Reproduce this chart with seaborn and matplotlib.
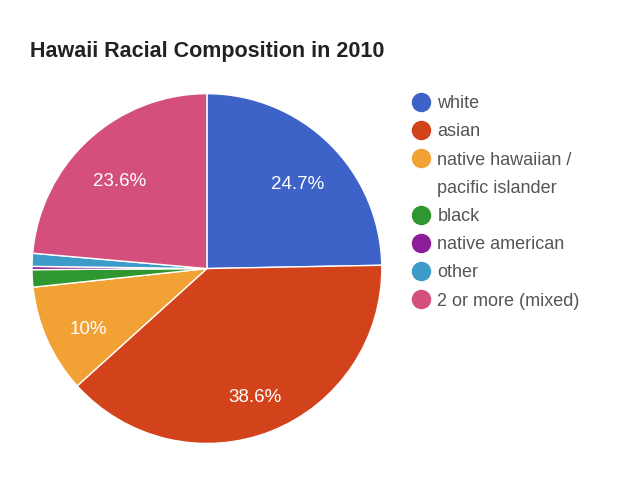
import matplotlib
matplotlib.use("Agg")
import matplotlib.pyplot as plt
from matplotlib.lines import Line2D
import seaborn as sns

# Hawaii 2010 census shares (percent)
groups = ["white", "asian", "native hawaiian /", "black",
          "native american", "other", "2 or more (mixed)"]
shares = [24.7, 38.6, 10.0, 1.6, 0.3, 1.2, 23.6]
colors = ["#3d63c9", "#d2431c", "#f2a134", "#2f972f", "#8c1d98", "#3c9bc9", "#d44f7e"]
# second line of the wrapped legend entry
wrap_after = "native hawaiian /"
wrap_text = "pacific islander"

sns.set_theme(style="white")
plt.rcParams["font.family"] = ["Liberation Sans", "DejaVu Sans"]


def pct_label(pct):
    # small slices get no label, like the original chart
    if pct < 5:
        return ""
    text = f"{pct:.1f}".rstrip("0").rstrip(".")
    return text + "%"


fig = plt.figure(figsize=(6.18, 4.8), dpi=100)
ax = fig.add_axes([0.0518, 0.076, 0.566, 0.729])

wedges, texts, autotexts = ax.pie(
    shares,
    colors=colors,
    startangle=90,
    counterclock=False,
    autopct=pct_label,
    pctdistance=0.74,
    wedgeprops={"edgecolor": "white", "linewidth": 1},
    textprops={"color": "white", "fontsize": 13.5},
)
# google-style label anchor sits a little below the slice centre
for t in autotexts:
    t.set_va("top")
ax.set_xlim(-1, 1)
ax.set_ylim(-1, 1)
ax.set_aspect("equal")

fig.text(30 / 618, 1 - 52 / 480, "Hawaii Racial Composition in 2010",
         fontsize=15.5, fontweight="bold", color="#222222", va="center", ha="left")

handles, labels = [], []
for name, c in zip(groups, colors):
    handles.append(Line2D([], [], marker="o", linestyle="none", markersize=13,
                          markerfacecolor=c, markeredgecolor=c))
    labels.append(name)
    if name == wrap_after:
        handles.append(Line2D([], [], linestyle="none"))
        labels.append(wrap_text)

leg = fig.legend(handles, labels, loc="upper left",
                 bbox_to_anchor=(403 / 618, 1 - 88 / 480),
                 frameon=False, fontsize=13, handletextpad=0.3,
                 labelspacing=0.62, handlelength=1.2, borderaxespad=0)
for t in leg.get_texts():
    t.set_color("#555555")

fig.savefig("out.png", dpi=100, facecolor="white")
